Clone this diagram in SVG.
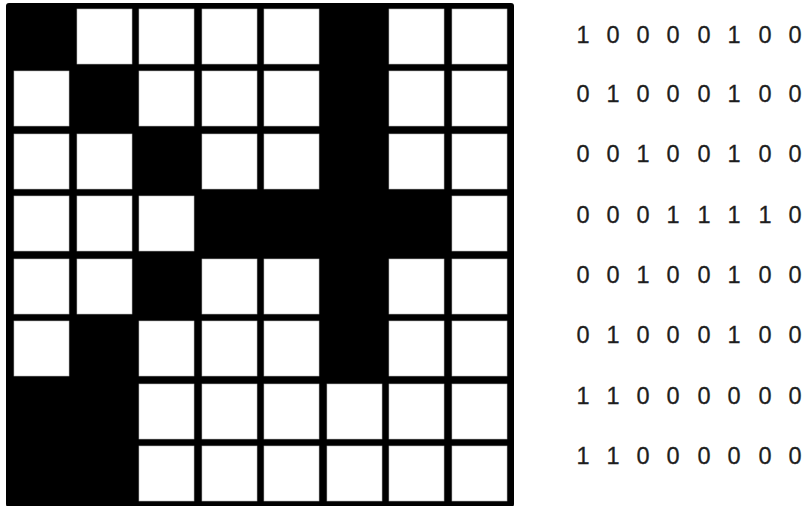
<svg xmlns="http://www.w3.org/2000/svg" width="806" height="506" viewBox="0 0 806 506">
<style>
.c{fill:#fff;stroke:#bbb;stroke-width:0.6}
.t{font-family:"Liberation Sans",Arial,sans-serif;font-size:23.5px;fill:#1e1e1e;stroke:#1e1e1e;stroke-width:0.3;text-anchor:middle}
</style>
<rect width="806" height="506" fill="#fff"/>
<g id="grid">
<rect x="6" y="3" width="508" height="504" rx="3" fill="#000"/>
<!-- row 0: 1 0 0 0 0 1 0 0 -->
<rect class="c" x="77" y="9" width="55" height="55"/>
<rect class="c" x="139" y="9" width="55" height="55"/>
<rect class="c" x="202" y="9" width="55" height="55"/>
<rect class="c" x="264" y="9" width="55" height="55"/>
<rect class="c" x="389" y="9" width="55" height="55"/>
<rect class="c" x="452" y="9" width="55" height="55"/>
<!-- row 1: 0 1 0 0 0 1 0 0 -->
<rect class="c" x="14" y="71" width="55" height="55"/>
<rect class="c" x="139" y="71" width="55" height="55"/>
<rect class="c" x="202" y="71" width="55" height="55"/>
<rect class="c" x="264" y="71" width="55" height="55"/>
<rect class="c" x="389" y="71" width="55" height="55"/>
<rect class="c" x="452" y="71" width="55" height="55"/>
<!-- row 2: 0 0 1 0 0 1 0 0 -->
<rect class="c" x="14" y="134" width="55" height="55"/>
<rect class="c" x="77" y="134" width="55" height="55"/>
<rect class="c" x="202" y="134" width="55" height="55"/>
<rect class="c" x="264" y="134" width="55" height="55"/>
<rect class="c" x="389" y="134" width="55" height="55"/>
<rect class="c" x="452" y="134" width="55" height="55"/>
<!-- row 3: 0 0 0 1 1 1 1 0 -->
<rect class="c" x="14" y="196" width="55" height="55"/>
<rect class="c" x="77" y="196" width="55" height="55"/>
<rect class="c" x="139" y="196" width="55" height="55"/>
<rect class="c" x="452" y="196" width="55" height="55"/>
<!-- row 4: 0 0 1 0 0 1 0 0 -->
<rect class="c" x="14" y="259" width="55" height="55"/>
<rect class="c" x="77" y="259" width="55" height="55"/>
<rect class="c" x="202" y="259" width="55" height="55"/>
<rect class="c" x="264" y="259" width="55" height="55"/>
<rect class="c" x="389" y="259" width="55" height="55"/>
<rect class="c" x="452" y="259" width="55" height="55"/>
<!-- row 5: 0 1 0 0 0 1 0 0 -->
<rect class="c" x="14" y="321" width="55" height="55"/>
<rect class="c" x="139" y="321" width="55" height="55"/>
<rect class="c" x="202" y="321" width="55" height="55"/>
<rect class="c" x="264" y="321" width="55" height="55"/>
<rect class="c" x="389" y="321" width="55" height="55"/>
<rect class="c" x="452" y="321" width="55" height="55"/>
<!-- row 6: 1 1 0 0 0 0 0 0 -->
<rect class="c" x="139" y="384" width="55" height="55"/>
<rect class="c" x="202" y="384" width="55" height="55"/>
<rect class="c" x="264" y="384" width="55" height="55"/>
<rect class="c" x="327" y="384" width="55" height="55"/>
<rect class="c" x="389" y="384" width="55" height="55"/>
<rect class="c" x="452" y="384" width="55" height="55"/>
<!-- row 7: 1 1 0 0 0 0 0 0 -->
<rect class="c" x="139" y="446" width="55" height="55"/>
<rect class="c" x="202" y="446" width="55" height="55"/>
<rect class="c" x="264" y="446" width="55" height="55"/>
<rect class="c" x="327" y="446" width="55" height="55"/>
<rect class="c" x="389" y="446" width="55" height="55"/>
<rect class="c" x="452" y="446" width="55" height="55"/>
</g>
<g id="matrix" class="t">
<text y="43"><tspan x="583">1</tspan><tspan x="613">0</tspan><tspan x="643">0</tspan><tspan x="673">0</tspan><tspan x="704">0</tspan><tspan x="734">1</tspan><tspan x="765">0</tspan><tspan x="795">0</tspan></text>
<text y="102"><tspan x="583">0</tspan><tspan x="613">1</tspan><tspan x="643">0</tspan><tspan x="673">0</tspan><tspan x="704">0</tspan><tspan x="734">1</tspan><tspan x="765">0</tspan><tspan x="795">0</tspan></text>
<text y="162"><tspan x="583">0</tspan><tspan x="613">0</tspan><tspan x="643">1</tspan><tspan x="673">0</tspan><tspan x="704">0</tspan><tspan x="734">1</tspan><tspan x="765">0</tspan><tspan x="795">0</tspan></text>
<text y="223"><tspan x="583">0</tspan><tspan x="613">0</tspan><tspan x="643">0</tspan><tspan x="673">1</tspan><tspan x="704">1</tspan><tspan x="734">1</tspan><tspan x="765">1</tspan><tspan x="795">0</tspan></text>
<text y="283"><tspan x="583">0</tspan><tspan x="613">0</tspan><tspan x="643">1</tspan><tspan x="673">0</tspan><tspan x="704">0</tspan><tspan x="734">1</tspan><tspan x="765">0</tspan><tspan x="795">0</tspan></text>
<text y="343"><tspan x="583">0</tspan><tspan x="613">1</tspan><tspan x="643">0</tspan><tspan x="673">0</tspan><tspan x="704">0</tspan><tspan x="734">1</tspan><tspan x="765">0</tspan><tspan x="795">0</tspan></text>
<text y="404"><tspan x="583">1</tspan><tspan x="613">1</tspan><tspan x="643">0</tspan><tspan x="673">0</tspan><tspan x="704">0</tspan><tspan x="734">0</tspan><tspan x="765">0</tspan><tspan x="795">0</tspan></text>
<text y="464"><tspan x="583">1</tspan><tspan x="613">1</tspan><tspan x="643">0</tspan><tspan x="673">0</tspan><tspan x="704">0</tspan><tspan x="734">0</tspan><tspan x="765">0</tspan><tspan x="795">0</tspan></text>
</g>
</svg>
